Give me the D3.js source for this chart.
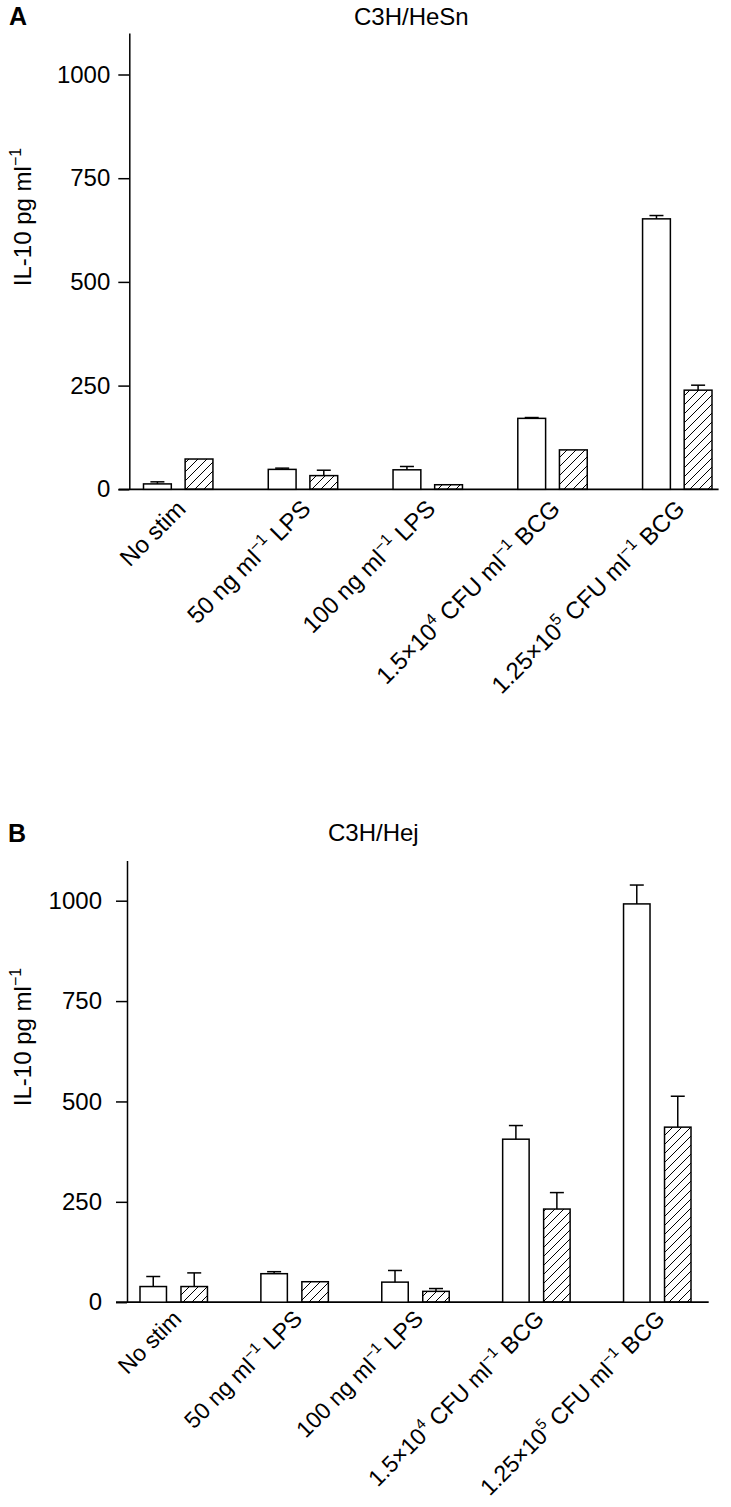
<!DOCTYPE html>
<html><head><meta charset="utf-8">
<script src="https://cdn.jsdelivr.net/npm/d3@7"></script>
<style>
body{margin:0;background:#fff}
svg{display:block}
text{font-family:"Liberation Sans",Arial,Helvetica,sans-serif;fill:#000}
</style>
</head><body>
<svg id="c" width="731" height="1507"></svg>
<script>
// ---- data ----
const categories = ["No stim", "50 ng ml^{−1} LPS", "100 ng ml^{−1} LPS", "1.5×10^{4} CFU ml^{−1} BCG", "1.25×10^{5} CFU ml^{−1} BCG"];
const series = ["open", "hatched"];
const yTicks = [0, 250, 500, 750, 1000];
const yLabel = "IL-10 pg ml^{−1}";
const titleA = "C3H/HeSn";
const titleB = "C3H/Hej";
const openA = [13, 48, 47, 171, 652];
const openErrA = [5, 3, 8, 2, 8];
const hatchA = [73, 33, 11, 95, 239];
const hatchErrA = [0, 13, 0, 0, 12];
const openB = [39, 71, 50, 406, 992];
const openErrB = [25, 5, 29, 34, 47];
const hatchB = [39, 51, 27, 232, 436];
const hatchErrB = [34, 0, 7, 41, 77];

// ---- layout ----
const FS = 24;
const svg = d3.select("#c");
const defs = svg.append("defs");
const pat = defs.append("pattern").attr("id", "hatch").attr("patternUnits", "userSpaceOnUse")
  .attr("width", 9).attr("height", 9);
pat.append("path").attr("d", "M-1,10 L10,-1 M-3,2 L2,-3 M7,12 L12,7")
  .attr("stroke", "#000").attr("stroke-width", 1).attr("fill", "none");

function addRich(textSel, str, supShift, supSize) {
  const re = /\^\{([^}]*)\}/g;
  let last = 0, m, pending = 0;
  while ((m = re.exec(str)) !== null) {
    if (m.index > last) {
      textSel.append("tspan").attr("dy", pending).text(str.slice(last, m.index));
      pending = 0;
    }
    textSel.append("tspan").attr("dy", pending - supShift).attr("font-size", supSize).text(m[1]);
    pending = supShift;
    last = re.lastIndex;
  }
  if (last < str.length) textSel.append("tspan").attr("dy", pending).text(str.slice(last));
}

const panels = [
  { letter: "A", letterX: 9, letterY: 25, title: titleA, titleX: 354, titleY: 25,
    open: openA, openErr: openErrA, hatch: hatchA, hatchErr: hatchErrA,
    axisX: 129.3, y0: 489.3, y1000: 74.5, barRange: [143.5, 712], groupPad: 0.4435, innerPad: 0.332,
    baseX: [118.6, 718.6], tickPad: 8, yLabX: 31, yLabY: 217, labFS: 24, labDY: 21, labDX: 9 },
  { letter: "B", letterX: 8, letterY: 842, title: titleB, titleX: 328, titleY: 841,
    open: openB, openErr: openErrB, hatch: hatchB, hatchErr: hatchErrB,
    axisX: 127, y0: 1302.2, y1000: 900.7, barRange: [140, 691], groupPad: 0.442, innerPad: 0.354,
    baseX: [116, 708.7], tickPad: 14, yLabX: 31, yLabY: 1037, labFS: 23, labDY: 18, labDX: 9 }
];

panels.forEach(p => {
  const g = svg.append("g");
  const k = (p.y0 - p.y1000) / 1000;
  const y = d3.scaleLinear().domain([0, 1100]).range([p.y0, p.y0 - 1100 * k]);
  const x = d3.scaleBand().domain(categories).range(p.barRange).paddingInner(p.groupPad).paddingOuter(0);
  const xi = d3.scaleBand().domain(series).range([0, x.bandwidth()]).paddingInner(p.innerPad);

  g.append("text").attr("x", p.letterX).attr("y", p.letterY).attr("font-size", 25)
    .attr("font-weight", "bold").text(p.letter);
  g.append("text").attr("x", p.titleX).attr("y", p.titleY).attr("font-size", FS).text(p.title);

  const ax = g.append("g").attr("transform", `translate(${p.axisX},0)`)
    .call(d3.axisLeft(y).tickValues(yTicks).tickSize(11).tickSizeOuter(0).tickPadding(p.tickPad).tickFormat(d3.format("d")));
  ax.select(".domain").attr("stroke", "#000").attr("stroke-width", 1.5);
  ax.selectAll(".tick line").attr("stroke", "#000").attr("stroke-width", 1.5);
  ax.selectAll(".tick text").attr("font-size", FS).attr("font-family", "Liberation Sans, Arial, sans-serif").attr("fill", "#000");

  const yl = g.append("text").attr("transform", `translate(${p.yLabX},${p.yLabY}) rotate(-90)`)
    .attr("text-anchor", "middle").attr("font-size", FS);
  addRich(yl, yLabel, 10, 16);

  g.append("line").attr("x1", p.baseX[0]).attr("x2", p.baseX[1]).attr("y1", y(0)).attr("y2", y(0))
    .attr("stroke", "#000").attr("stroke-width", 1.8);

  const rows = categories.map((c, i) => [
    { c, s: "open", v: p.open[i], e: p.openErr[i] },
    { c, s: "hatched", v: p.hatch[i], e: p.hatchErr[i] }
  ]).flat();

  g.append("g").selectAll("rect").data(rows).join("rect")
    .attr("x", d => x(d.c) + xi(d.s))
    .attr("y", d => y(d.v))
    .attr("width", xi.bandwidth())
    .attr("height", d => y(0) - y(d.v))
    .attr("fill", d => d.s === "open" ? "#fff" : "url(#hatch)")
    .attr("stroke", "#000").attr("stroke-width", 1.5);

  const eb = g.append("g").attr("stroke", "#000").attr("stroke-width", 1.5);
  rows.filter(d => d.e > 0).forEach(d => {
    const cx = x(d.c) + xi(d.s) + xi.bandwidth() / 2;
    eb.append("line").attr("x1", cx).attr("x2", cx).attr("y1", y(d.v)).attr("y2", y(d.v + d.e));
    eb.append("line").attr("x1", cx - 7).attr("x2", cx + 7).attr("y1", y(d.v + d.e)).attr("y2", y(d.v + d.e));
  });

  categories.forEach(c => {
    const cx = x(c) + x.bandwidth() / 2 + p.labDX;
    const t = g.append("text").attr("transform", `translate(${cx},${y(0) + p.labDY}) rotate(-45)`)
      .attr("text-anchor", "end").attr("font-size", p.labFS);
    addRich(t, c, 10, Math.round(p.labFS * 0.67));
  });
});
</script>
</body></html>
